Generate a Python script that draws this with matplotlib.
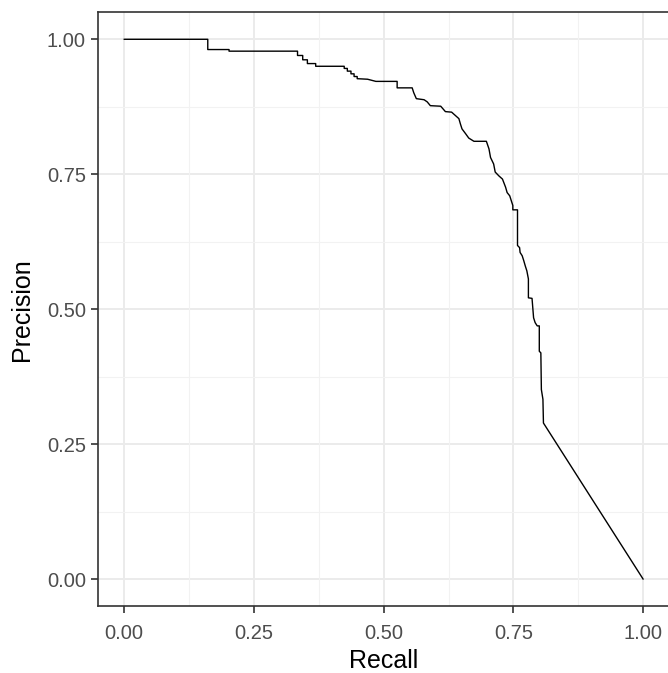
import numpy as np
import matplotlib
matplotlib.use("Agg")
import matplotlib.pyplot as plt

# PR curve vertices
recall = [0.0, 0.161, 0.161, 0.202, 0.202, 0.334, 0.334, 0.344, 0.344, 0.353,
          0.353, 0.369, 0.369, 0.424, 0.424, 0.430, 0.430, 0.437, 0.437, 0.443,
          0.443, 0.449, 0.449, 0.469, 0.485, 0.526, 0.526, 0.555, 0.558, 0.563,
          0.578, 0.584, 0.590, 0.610, 0.619, 0.631, 0.638, 0.645, 0.648, 0.651,
          0.658, 0.664, 0.674, 0.698, 0.703, 0.706, 0.712, 0.715, 0.722, 0.729,
          0.735, 0.738, 0.743, 0.746, 0.749, 0.749, 0.758, 0.758, 0.762, 0.763,
          0.767, 0.770, 0.773, 0.776, 0.779, 0.779, 0.786, 0.789, 0.792, 0.796,
          0.800, 0.800, 0.803, 0.804, 0.807, 0.808, 1.0]
precision = [1.0, 1.0, 0.981, 0.981, 0.978, 0.978, 0.970, 0.970, 0.962, 0.962,
             0.955, 0.955, 0.950, 0.950, 0.946, 0.946, 0.941, 0.941, 0.936, 0.936,
             0.931, 0.931, 0.927, 0.926, 0.922, 0.922, 0.910, 0.910, 0.901, 0.890,
             0.888, 0.884, 0.877, 0.876, 0.866, 0.865, 0.859, 0.853, 0.843, 0.834,
             0.825, 0.817, 0.811, 0.811, 0.797, 0.781, 0.769, 0.754, 0.747, 0.741,
             0.726, 0.716, 0.710, 0.701, 0.692, 0.684, 0.684, 0.618, 0.614, 0.605,
             0.599, 0.590, 0.580, 0.571, 0.556, 0.521, 0.520, 0.484, 0.475, 0.469,
             0.469, 0.422, 0.419, 0.351, 0.333, 0.289, 0.0]

ticks = [0.0, 0.25, 0.5, 0.75, 1.0]
tick_labels = ["0.00", "0.25", "0.50", "0.75", "1.00"]
minor = [0.125, 0.375, 0.625, 0.875]

plt.rcParams['font.family'] = ['Liberation Sans', 'DejaVu Sans']

fig = plt.figure(figsize=(6.68, 6.73), dpi=100)
ax = fig.add_axes([98.3 / 668, 67 / 673, 570.7 / 668, 593.7 / 673])

for v in ticks:
    ax.axvline(v, color="#EBEBEB", lw=1.4, zorder=0)
    ax.axhline(v, color="#EBEBEB", lw=1.4, zorder=0)
for v in minor:
    ax.axvline(v, color="#F2F2F2", lw=0.8, zorder=0)
    ax.axhline(v, color="#F2F2F2", lw=0.8, zorder=0)

ax.plot(recall, precision, color="black", lw=1.0, zorder=3)

ax.set_xlim(-0.05, 1.05)
ax.set_ylim(-0.05, 1.05)
ax.set_xticks(ticks)
ax.set_xticklabels(tick_labels)
ax.set_yticks(ticks)
ax.set_yticklabels(tick_labels)
ax.tick_params(axis="both", length=5, width=1.2, color="#333333",
               labelcolor="#4D4D4D", labelsize=14.5)
ax.tick_params(axis="x", pad=8)
ax.tick_params(axis="y", pad=4)
for s in ax.spines.values():
    s.set_color("#333333")
    s.set_linewidth(1.2)

ax.set_xlabel("Recall", fontsize=18, labelpad=4)
ax.set_ylabel("Precision", fontsize=18, labelpad=9)

fig.savefig("out.png", dpi=100)
